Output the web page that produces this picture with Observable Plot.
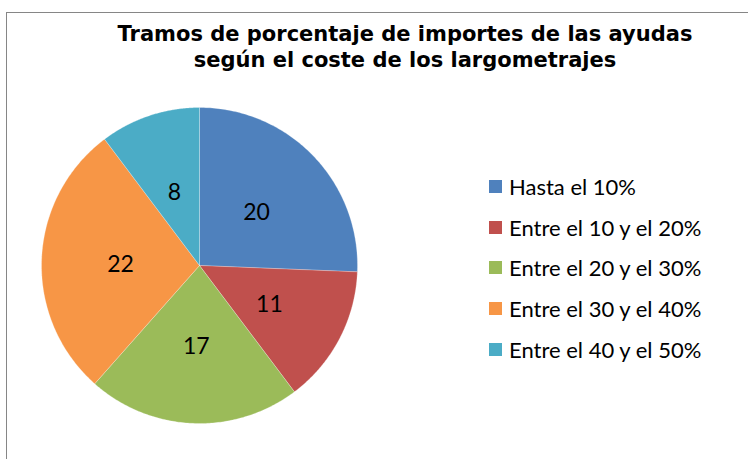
<!DOCTYPE html>
<html>
<head>
<meta charset="utf-8">
<script src="https://cdn.jsdelivr.net/npm/d3@7"></script>
<script src="https://cdn.jsdelivr.net/npm/@observablehq/plot@0.6"></script>
<style>
  body { margin: 0; background: #fff; }
  #wrap { position: relative; width: 748px; height: 459px; overflow: hidden; background: #fff; }
  #border { position: absolute; left: 6px; top: 12px; width: 800px; height: 500px; border: 1px solid #868686; box-sizing: border-box; }
  #title { position: absolute; left: 55px; width: 700px; top: 21px; text-align: center; font-family: "DejaVu Sans", Verdana, sans-serif; font-weight: bold; font-size: 21px; line-height: 26px; color: #000; }
  #chart { position: absolute; left: 0; top: 0; }
  #legend { position: absolute; left: 489px; top: 166px; font-family: Lato, "Open Sans", sans-serif; font-size: 22px; color: #000; }
  .item { height: 40.7px; display: flex; align-items: center; }
  .sw { width: 13px; height: 13px; margin-right: 7px; }
</style>
</head>
<body>
<div id="wrap">
  <div id="border"></div>
  <div id="title">Tramos de porcentaje de importes de las ayudas<br>según el coste de los largometrajes</div>
  <div id="chart"></div>
  <div id="legend"></div>
</div>
<script>
const categories = ["Hasta el 10%", "Entre el 10 y el 20%", "Entre el 20 y el 30%", "Entre el 30 y el 40%", "Entre el 40 y el 50%"];
const values = [20, 11, 17, 22, 8];
const colors = ["#4F81BD", "#C0504D", "#9BBB59", "#F79646", "#4BACC6"];

const data = categories.map((c, i) => ({category: c, value: values[i], color: colors[i]}));
const arcs = d3.pie().value(d => d.value).sort(null)(data);

// Build slice outlines in unit-circle space (angle 0 = top, clockwise)
const slicePts = [];
arcs.forEach((a, i) => {
  slicePts.push({k: i, x: 0, y: 0, color: a.data.color});
  const n = 120;
  for (let j = 0; j <= n; j++) {
    const t = a.startAngle + (a.endAngle - a.startAngle) * j / n;
    slicePts.push({k: i, x: Math.sin(t), y: Math.cos(t), color: a.data.color});
  }
  slicePts.push({k: i, x: 0, y: 0, color: a.data.color});
});
const labels = arcs.map(a => {
  const t = (a.startAngle + a.endAngle) / 2;
  return {x: 0.5 * Math.sin(t), y: 0.5 * Math.cos(t), v: a.data.value};
});

const cx = 199, cy = 265, r = 158;
const plot = Plot.plot({
  width: 748, height: 459,
  margin: 0,
  x: {domain: [-1, 1], range: [cx - r, cx + r], axis: null},
  y: {domain: [-1, 1], range: [cy + r, cy - r], axis: null},
  style: {background: "transparent", overflow: "visible"},
  marks: [
    Plot.line(slicePts, {x: "x", y: "y", z: "k", fill: "color", stroke: "#fff", strokeOpacity: 0.5, strokeWidth: 0.5, curve: "linear"}),
    Plot.text(labels, {x: "x", y: "y", text: "v", dy: 2, fontSize: 23, fill: "#000", fontFamily: "Lato, 'Open Sans', sans-serif"})
  ]
});
document.getElementById("chart").appendChild(plot);

const leg = document.getElementById("legend");
data.forEach(d => {
  const it = document.createElement("div");
  it.className = "item";
  const sw = document.createElement("div");
  sw.className = "sw";
  sw.style.background = d.color;
  const tx = document.createElement("span");
  tx.textContent = d.category;
  it.appendChild(sw); it.appendChild(tx);
  leg.appendChild(it);
});
</script>
</body>
</html>
